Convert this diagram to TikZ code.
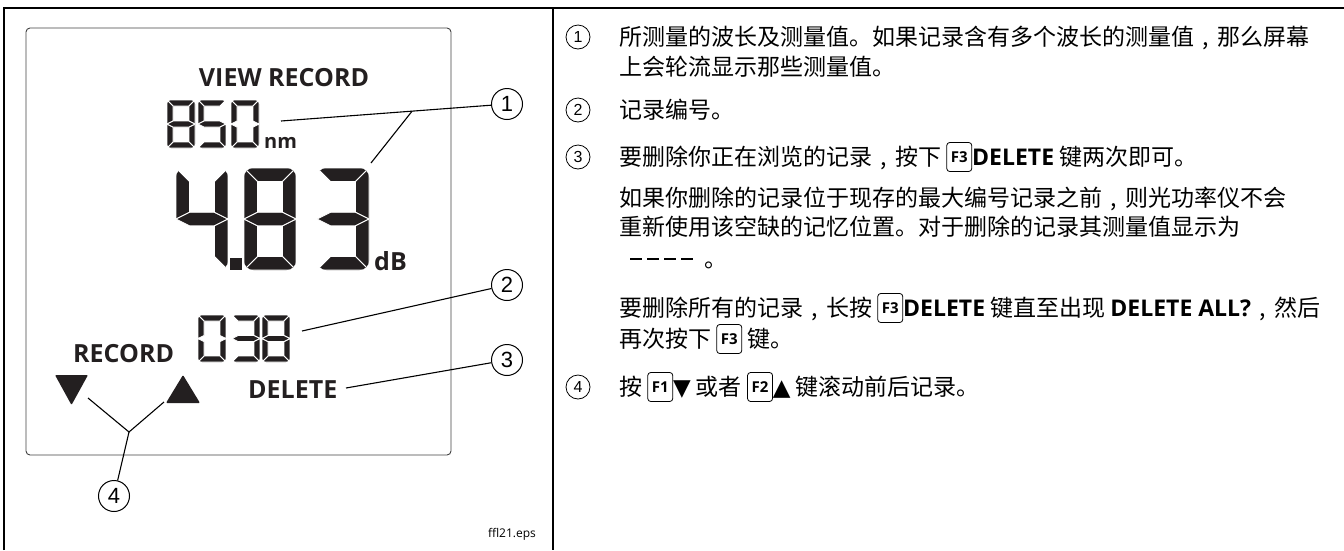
\documentclass[tikz,border=0pt]{standalone}
\usepackage{fontspec}
\usetikzlibrary{calc}
\setmainfont{Noto Sans CJK SC}
\newfontfamily\osans{Open Sans}
\newfontfamily\lsans{Liberation Sans}
\newfontfamily\dvs{DejaVu Sans}
\newcommand\fsz[1]{\fontsize{#1}{#1}\selectfont}
\newcommand\zc{\makebox[1em][c]{,}}
\definecolor{segc}{HTML}{231F20}
\tikzset{
  segpart/.style={fill=segc, draw=white, line width=0.9pt, line join=round},
  lbl/.style={font=\osans\bfseries\fsz{25}, inner sep=0pt, anchor=base west, text=segc},
  callout/.style={circle, draw, line width=1pt, minimum size=31pt, inner sep=0pt, font=\lsans\fsz{22}},
  rcall/.style={circle, draw, line width=0.8pt, minimum size=24pt, inner sep=0pt, font=\lsans\fsz{16}},
  body/.style={font=\fsz{23}, inner sep=0pt, anchor=base west},
  leader/.style={line width=1.1pt},
  kcap/.style={draw, rounded corners=3pt, line width=0.8pt, minimum width=25pt, minimum height=29pt, inner sep=0pt, anchor=center, text=black, font=\osans\bfseries\fsz{15}},
  frameline/.style={line width=2.6pt},
}
\newcommand\keycap[1]{\tikz[baseline=-8.5pt]\node[kcap] (kk) at (0,0) {#1};}
\newcommand\SGa{\path[segpart] (0,0) -- (\dW,0) -- ({\dW-\dT},\dT) -- (\dT,\dT) -- cycle;}
\newcommand\SGb{\path[segpart] (\dW,0) -- (\dW,\dM) -- ({\dW-\dT},{\dM-\dTh}) -- ({\dW-\dT},\dT) -- cycle;}
\newcommand\SGc{\path[segpart] (\dW,\dM) -- (\dW,\dH) -- ({\dW-\dT},{\dH-\dT}) -- ({\dW-\dT},{\dM+\dTh}) -- cycle;}
\newcommand\SGd{\path[segpart] (0,\dH) -- (\dT,{\dH-\dT}) -- ({\dW-\dT},{\dH-\dT}) -- (\dW,\dH) -- cycle;}
\newcommand\SGe{\path[segpart] (0,\dM) -- (\dT,{\dM+\dTh}) -- (\dT,{\dH-\dT}) -- (0,\dH) -- cycle;}
\newcommand\SGf{\path[segpart] (0,0) -- (\dT,\dT) -- (\dT,{\dM-\dTh}) -- (0,\dM) -- cycle;}
\newcommand\SGg{\path[segpart] (0,\dM) -- (\dT,{\dM-\dTh}) -- ({\dW-\dT},{\dM-\dTh}) -- (\dW,\dM) -- ({\dW-\dT},{\dM+\dTh}) -- (\dT,{\dM+\dTh}) -- cycle;}
\newcommand\sdigit[6]{%
  \begin{scope}[shift={(#1,#2)}]
    \pgfmathsetmacro\dW{#3}\pgfmathsetmacro\dH{#4}\pgfmathsetmacro\dT{#5}%
    \pgfmathsetmacro\dM{#4/2}\pgfmathsetmacro\dTh{#5/2}\pgfmathsetmacro\dR{#5*0.7}%
    \clip[rounded corners=\dR pt] (0,0) rectangle (\dW,\dH);
    \foreach \s in {#6}{\csname SG\s\endcsname}%
  \end{scope}}
\newcommand\dashrow{\rule[7.2pt]{12pt}{2.6pt}\hspace{5pt}\rule[7.2pt]{12pt}{2.6pt}\hspace{5pt}\rule[7.2pt]{12pt}{2.6pt}\hspace{5pt}\rule[7.2pt]{12pt}{2.6pt}}
\begin{document}
\begin{tikzpicture}[x=1pt,y=-1pt]
\useasboundingbox (0,0) rectangle (1344,550);
% frame
\draw[frameline] (4,550) -- (4,8) -- (1344,8);
\draw[frameline] (553,8) -- (553,550);
% display box
\draw[line width=0.9pt, draw=black!75, rounded corners=4pt] (26,28) rectangle (451,455);
% labels
\node[lbl, anchor=base] (vr) at (284,86) {VIEW RECORD};
\node[font=\osans\bfseries\fsz{20}, inner sep=0pt, anchor=base west, text=segc] (nm) at (264,148) {nm};
\node[lbl] (db) at (374,270) {dB};
\node[lbl] (rec) at (73,362) {RECORD};
\node[lbl] (del) at (248,398) {DELETE};
% small digits 850
\sdigit{167}{100}{28}{48}{6}{a,b,c,d,e,f,g}
\sdigit{198}{100}{28}{48}{6}{a,f,g,c,d}
\sdigit{231}{100}{28}{48}{6}{a,b,c,d,e,f}
% big digits 4.83
\sdigit{176}{168}{52}{102}{13.5}{f,g,b,c}
\sdigit{244}{168}{52}{102}{13.5}{a,b,c,d,e,f,g}
\sdigit{317}{168}{52}{102}{13.5}{a,b,g,c,d}
\fill[segc] (230,258) rectangle (242,270);
% record number 038
\sdigit{198}{315}{28}{47}{6}{a,b,c,d,e,f}
\sdigit{232}{315}{28}{47}{6}{a,b,g,c,d}
\sdigit{262}{315}{28}{47}{6}{a,b,c,d,e,f,g}
% arrows
\fill[segc, rounded corners=1pt] (55,375) -- (88,375) -- (71.5,405) -- cycle;
\fill[segc, rounded corners=1pt] (166,403) -- (200,403) -- (183,375) -- cycle;
% callouts
\node[callout] (c1) at (507,104) {1};
\node[callout] (c2) at (507,285) {2};
\node[callout] (c3) at (507,360) {3};
\node[callout] (c4) at (114,496) {4};
% leaders
\coordinate (p1) at (281,121);
\draw[leader] (p1) -- (c1);
\coordinate (j1) at ($(p1)!0.58!(c1)$);
\coordinate (p1b) at (371,163);
\draw[leader] (j1) -- (p1b);
\coordinate (p2) at (302,331);
\draw[leader] (p2) -- (c2);
\coordinate (p3) at (346,388);
\draw[leader] (p3) -- (c3);
\coordinate (t1) at (88,398);
\coordinate (t2) at (164,402);
\coordinate (j4) at (129,432);
\draw[leader] (t1) -- (j4) -- (t2);
\draw[leader] (j4) -- (c4);
\node[font=\osans\fsz{12}, inner sep=0pt] (fig) at (512,534) {ffl21.eps};
% right column
\node[rcall] (r1) at (578,37) {1};
\node[body] (t11) at (619,45.5) {所测量的波长及测量值。如果记录含有多个波长的测量值\zc 那么屏幕};
\node[body] (t12) at (619,75.5) {上会轮流显示那些测量值。};
\node[rcall] (r2) at (578,110) {2};
\node[body] (t21) at (619,118.5) {记录编号。};
\node[rcall] (r3) at (578,157) {3};
\node[body] (t31) at (619,165.5) {要删除你正在浏览的记录\zc 按下 \keycap{F3}{\osans\bfseries DELETE} 键两次即可。};
\node[body] (t32) at (619,206.5) {如果你删除的记录位于现存的最大编号记录之前\zc 则光功率仪不会};
\node[body] (t33) at (619,235.5) {重新使用该空缺的记忆位置。对于删除的记录其测量值显示为};
\node[body] (t34) at (630,267.5) {\dashrow\hspace{11pt}。};
\node[body] (t35) at (619,316.5) {要删除所有的记录\zc 长按 \keycap{F3}{\osans\bfseries DELETE} 键直至出现 {\osans\bfseries DELETE ALL?}\zc 然后};
\node[body] (t36) at (619,347.5) {再次按下 \keycap{F3} 键。};
\node[rcall] (r4) at (578,387) {4};
\node[body] (t4) at (619,395.5) {按 \keycap{F1}{\dvs ▼} 或者 \keycap{F2}{\dvs ▲} 键滚动前后记录。};
\end{tikzpicture}
\end{document}
